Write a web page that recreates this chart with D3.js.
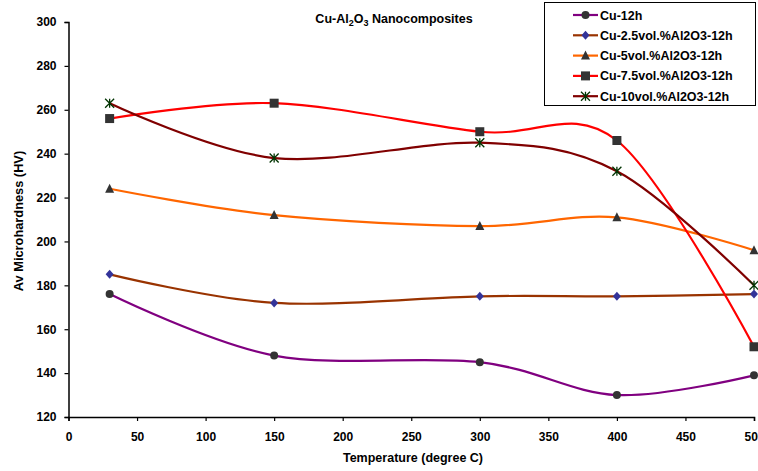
<!DOCTYPE html>
<html><head><meta charset="utf-8">
<script src="https://cdn.jsdelivr.net/npm/d3@7"></script>
<style>body{margin:0;background:#fff;} svg{display:block;font-family:"Liberation Sans",Arial,sans-serif;}</style>
</head><body>
<svg id="c" width="758" height="471"></svg>
<script>
const temps = [30, 150, 300, 400, 500];
const seriesNames = ["Cu-12h", "Cu-2.5vol.%Al2O3-12h", "Cu-5vol.%Al2O3-12h", "Cu-7.5vol.%Al2O3-12h", "Cu-10vol.%Al2O3-12h"];
const cu12 = [176, 148, 145, 130, 139];
const cu25 = [185, 172, 175, 175, 176];
const cu5 = [224, 212, 207, 211, 196];
const cu75 = [256, 263, 250, 246, 152];
const cu10 = [263, 238, 245, 232, 180];
const xTicks = [0, 50, 100, 150, 200, 250, 300, 350, 400, 450, 500];
const yTicks = [120, 140, 160, 180, 200, 220, 240, 260, 280, 300];

const lineColors = ["#800080", "#993300", "#FF6600", "#FF0000", "#800000"];
const markerColors = ["#333333", "#333399", "#333333", "#333333", "#003300"];
const markers = ["circle", "diamond", "triangle", "square", "star"];
const values = [cu12, cu25, cu5, cu75, cu10];

const svg = d3.select("#c");
const x = d3.scaleLinear().domain([0, 500]).range([68.5, 754]);
const y = d3.scaleLinear().domain([120, 300]).range([417, 22]);

// axes
const gx = svg.append("g").attr("transform", `translate(0,${y(120)})`)
  .call(d3.axisBottom(x).tickValues(xTicks).tickSize(4).tickPadding(11).tickFormat(d3.format("d")));
const gy = svg.append("g").attr("transform", `translate(${x(0)},0)`)
  .call(d3.axisLeft(y).tickValues(yTicks).tickSize(4).tickPadding(8).tickFormat(d3.format("d")));
[gx, gy].forEach(g => {
  g.select(".domain").attr("stroke", "#000").attr("stroke-width", 1.5);
  g.selectAll(".tick line").attr("stroke", "#000").attr("stroke-width", 1.2);
  g.selectAll(".tick text").attr("font-size", 12).attr("font-weight", "bold").attr("fill", "#000")
    .attr("font-family", "Liberation Sans, Arial, sans-serif");
});

const line = d3.line().x(d => x(d[0])).y(d => y(d[1])).curve(d3.curveCardinal.tension(0));

function drawMarker(g, type, cx, cy, color) {
  if (type === "circle") g.append("circle").attr("cx", cx).attr("cy", cy).attr("r", 4).attr("fill", color);
  else if (type === "square") g.append("rect").attr("x", cx - 4.5).attr("y", cy - 4.5).attr("width", 9).attr("height", 9).attr("fill", color);
  else if (type === "triangle") g.append("path").attr("d", `M${cx},${cy-5}L${cx+4.5},${cy+4}L${cx-4.5},${cy+4}Z`).attr("fill", color);
  else if (type === "diamond") g.append("path").attr("d", `M${cx},${cy-4.5}L${cx+4},${cy}L${cx},${cy+4.5}L${cx-4},${cy}Z`).attr("fill", color);
  else if (type === "star") {
    const s = 4.5;
    g.append("path").attr("d", `M${cx-s},${cy-s}L${cx+s},${cy+s}M${cx-s},${cy+s}L${cx+s},${cy-s}M${cx},${cy-s}L${cx},${cy+s}`)
      .attr("stroke", color).attr("stroke-width", 1.3).attr("fill", "none");
  }
}

values.forEach((vals, i) => {
  const pts = temps.map((t, j) => [t, vals[j]]);
  svg.append("path").attr("d", line(pts)).attr("fill", "none").attr("stroke", lineColors[i]).attr("stroke-width", 2.2);
});
values.forEach((vals, i) => {
  const g = svg.append("g");
  temps.forEach((t, j) => drawMarker(g, markers[i], x(t), y(vals[j]), markerColors[i]));
});

// title
const title = svg.append("text").attr("x", 394).attr("y", 23).attr("text-anchor", "middle")
  .attr("font-size", 12.5).attr("font-weight", "bold").attr("fill", "#000");
title.append("tspan").text("Cu-Al");
title.append("tspan").text("2").attr("font-size", 9).attr("dy", 3);
title.append("tspan").text("O").attr("dy", -3);
title.append("tspan").text("3").attr("font-size", 9).attr("dy", 3);
title.append("tspan").text(" Nanocomposites").attr("dy", -3);

// axis labels
svg.append("text").attr("x", 413).attr("y", 462).attr("text-anchor", "middle")
  .attr("font-size", 12.5).attr("font-weight", "bold").text("Temperature (degree C)");
svg.append("text").attr("transform", "translate(23,221) rotate(-90)").attr("text-anchor", "middle")
  .attr("font-size", 12.8).attr("font-weight", "bold").text("Av Microhardness (HV)");

// legend
const lg = svg.append("g");
lg.append("rect").attr("x", 544.5).attr("y", 2.5).attr("width", 211).attr("height", 103)
  .attr("fill", "#fff").attr("stroke", "#000").attr("stroke-width", 1);
seriesNames.forEach((n, i) => {
  const ly = 15 + i * 20.3;
  lg.append("line").attr("x1", 573).attr("x2", 598).attr("y1", ly).attr("y2", ly)
    .attr("stroke", lineColors[i]).attr("stroke-width", 2.2);
  drawMarker(lg, markers[i], 585.5, ly, markerColors[i]);
  lg.append("text").attr("x", 600).attr("y", ly + 4.5).attr("font-size", 12.5).attr("font-weight", "bold").text(n);
});
</script>
</body></html>
